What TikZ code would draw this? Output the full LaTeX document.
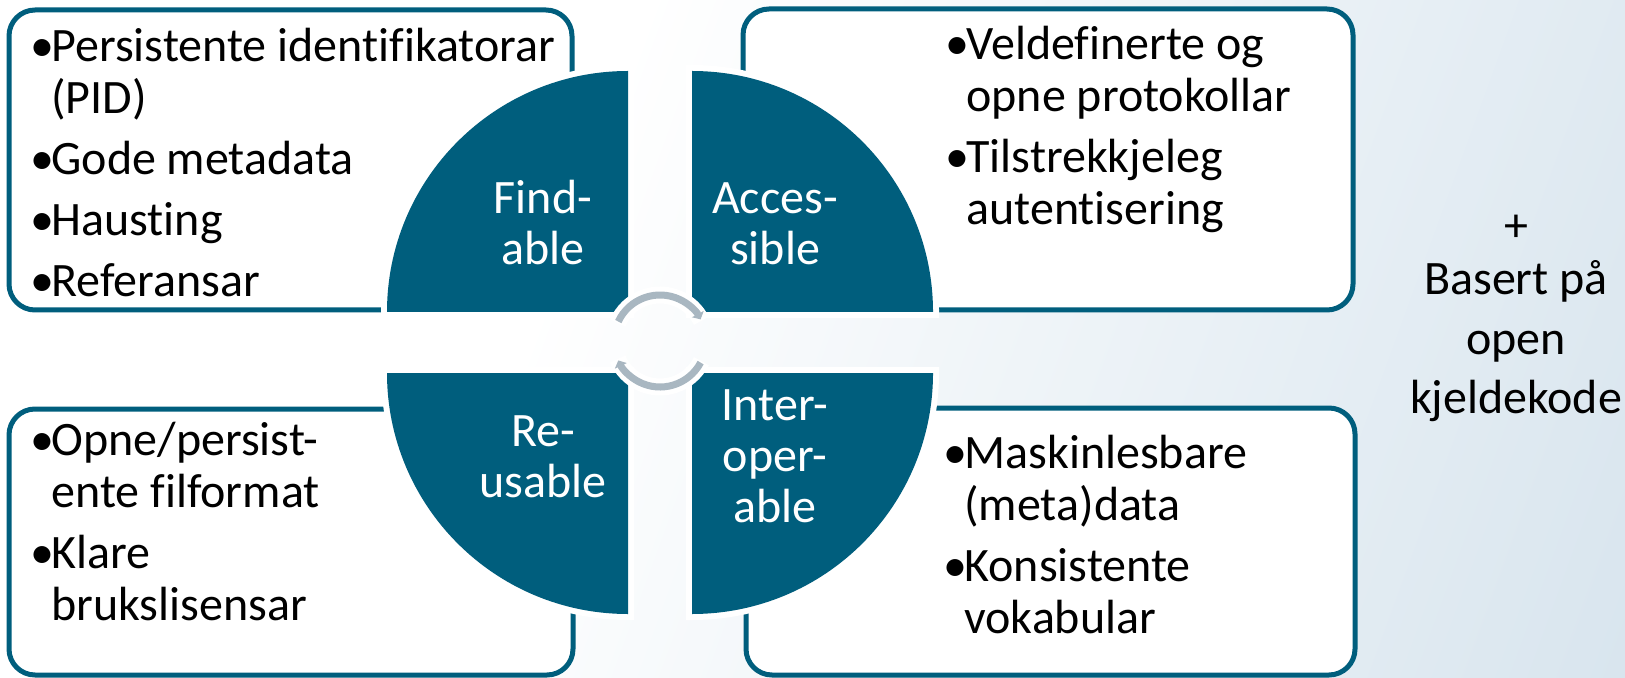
\documentclass[tikz,border=0pt]{standalone}
\usepackage{fontspec}
\setmainfont{Carlito}[Ligatures=NoCommon]
\usetikzlibrary{arrows.meta}
\definecolor{tealc}{RGB}{0,94,125}
\definecolor{arcgray}{RGB}{169,183,193}
\definecolor{bgblue}{RGB}{200,218,231}
\pgfdeclarehorizontalshading{bgshade}{100bp}{color(0bp)=(white); color(40bp)=(white); color(100bp)=(bgblue)}
\newcommand{\bulitem}{\makebox[10.5pt][l]{•}}
\newcommand{\hind}{\hspace*{10.5pt}}
\begin{document}
\begin{tikzpicture}[x=0.5pt,y=-0.5pt,
  box/.style={draw=tealc, line width=2.5pt, rounded corners=13pt, fill=white},
  quarter/.style={fill=tealc, preaction={draw=white, line width=6pt}},
  txt/.style={font=\fontsize{24pt}{26pt}\selectfont, align=left, inner sep=0pt, anchor=base west},
  lbl/.style={font=\fontsize{24pt}{25.5pt}\selectfont, align=center, inner sep=0pt, text=white, anchor=base},
  side/.style={font=\fontsize{24pt}{29.5pt}\selectfont, align=center, inner sep=0pt, anchor=base},
  halo/.style={draw=white, line width=8.5pt},
  cyc/.style={draw=arcgray, line width=3.5pt, -{Triangle[length=3pt,width=6.5pt]}}
]
\useasboundingbox (0,0) rectangle (1625,678);
\shade[shading=bgshade, shading angle=-20] (0,0) rectangle (1625,678);

% boxes
\draw[box] (9,10) rectangle (572,310);
\draw[box] (743,9) rectangle (1353,310);
\draw[box] (9,409) rectangle (573,675);
\draw[box] (746,408) rectangle (1355,675);

% quarter circles
\coordinate (cF) at (628,312);
\coordinate (cA) at (692,312);
\coordinate (cR) at (628,373);
\coordinate (cI) at (692,373);
\path[quarter] (cF) -- ++(-241,0) arc[start angle=180, end angle=270, radius=241] -- cycle;
\path[quarter] (cA) -- ++(241,0) arc[start angle=0, end angle=-90, radius=241] -- cycle;
\path[quarter] (cR) -- ++(-241,0) arc[start angle=180, end angle=90, radius=241] -- cycle;
\path[quarter] (cI) -- ++(241,0) arc[start angle=0, end angle=90, radius=241] -- cycle;

% cycle arrows
\coordinate (cc) at (660,341);
\draw[halo] ([shift={(203:46)}]cc) arc[start angle=203, end angle=334, radius=46];
\draw[halo] ([shift={(26:46)}]cc) arc[start angle=26, end angle=157, radius=46];
\draw[cyc] ([shift={(205:46)}]cc) arc[start angle=205, end angle=332, radius=46];
\draw[cyc] ([shift={(28:46)}]cc) arc[start angle=28, end angle=155, radius=46];

% labels in quarters (anchor = baseline of last line)
\node[lbl] (lF) at (543,265) {Find-\\able};
\node[lbl] (lA) at (775,265) {Acces-\\sible};
\node[lbl] (lR) at (543,497) {Re-\\usable};
\node[lbl] (lI) at (775,522) {Inter-\\oper-\\able};

% box texts (anchor = baseline of last line)
\node[txt] (tF) at (30,297) {\bulitem Persistente identifikatorar\\ \hind(PID)\\[4.5pt]
  \bulitem Gode metadata\\[4.5pt] \bulitem Hausting\\[4.5pt] \bulitem Referansar};
\node[txt] (tA) at (945,225) {\bulitem Veldefinerte og\\ \hind opne protokollar\\[4.5pt]
  \bulitem Tilstrekkjeleg\\ \hind autentisering};
\node[txt] (tR) at (30,620) {\bulitem Opne/persist-\\ \hind ente filformat\\[4.5pt]
  \bulitem Klare\\ \hind brukslisensar};
\node[txt] (tI) at (943,633) {\bulitem Maskinlesbare\\ \hind(meta)data\\[4.5pt]
  \bulitem Konsistente\\ \hind vokabular};

% side text
\node[side] (sd) at (1516,413) {+\\[-3pt]Basert på\\open\\kjeldekode};
\end{tikzpicture}
\end{document}
